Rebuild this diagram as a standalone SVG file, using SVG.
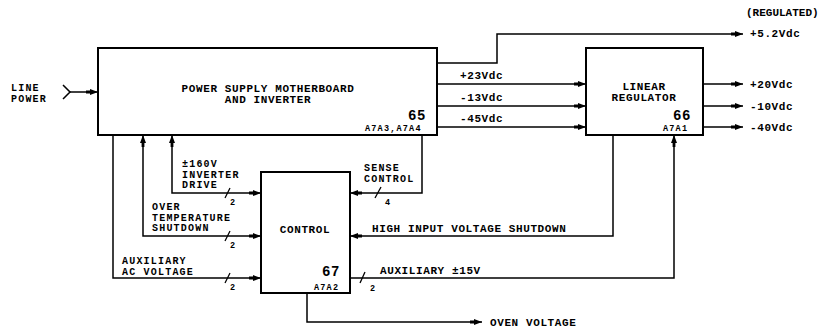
<svg xmlns="http://www.w3.org/2000/svg" width="822" height="333" viewBox="0 0 822 333">
<defs>
<style>
.box{fill:#fff;stroke:#000;stroke-width:2}
.ln{fill:none;stroke:#000;stroke-width:1.5}
.sl{fill:none;stroke:#000;stroke-width:1.3}
text{font-family:"Liberation Mono","DejaVu Sans Mono",monospace;font-size:11px;font-weight:bold;letter-spacing:0.6px;fill:#000}
.ml{font-size:10px;letter-spacing:1.2px}
.big{font-size:14px;letter-spacing:0.5px}
.sm{font-size:8.5px;letter-spacing:1.2px}
.c{text-anchor:middle}
</style>
<marker id="arr" viewBox="0 0 12 8" refX="12" refY="4" markerWidth="12" markerHeight="8" orient="auto-start-reverse" markerUnits="userSpaceOnUse">
<path d="M0,2.6 H4 V1 L12,4 L4,7 V5.4 H0 Z" fill="#000"/>
</marker>
</defs>
<rect width="822" height="333" fill="#fff"/>

<g id="connectors">
<path class="ln" d="M63,85 L70,92 L63,99"/>
<path class="ln" d="M70,92 H98" marker-end="url(#arr)"/>
<path class="ln" d="M437,63 H497 V34 H743" marker-end="url(#arr)"/>
<path class="ln" d="M437,84 H586" marker-end="url(#arr)"/>
<path class="ln" d="M437,106 H586" marker-end="url(#arr)"/>
<path class="ln" d="M437,127 H586" marker-end="url(#arr)"/>
<path class="ln" d="M703,84 H743" marker-end="url(#arr)"/>
<path class="ln" d="M703,106 H743" marker-end="url(#arr)"/>
<path class="ln" d="M703,127 H743" marker-end="url(#arr)"/>
<path class="ln" d="M113,135 V278 H261" marker-end="url(#arr)"/>
<path class="ln" d="M261,236 H143 V135" marker-start="url(#arr)" marker-end="url(#arr)"/>
<path class="ln" d="M261,193 H172 V135" marker-start="url(#arr)" marker-end="url(#arr)"/>
<path class="ln" d="M422,135 V193 H350" marker-end="url(#arr)"/>
<path class="ln" d="M613,135 V236 H350" marker-end="url(#arr)"/>
<path class="ln" d="M350,278 H674 V135" marker-end="url(#arr)"/>
<path class="ln" d="M307,293 V322 H482" marker-end="url(#arr)"/>
<path class="sl" d="M225,198 L230,188"/>
<text class="sm" x="230" y="205">2</text>
<path class="sl" d="M225,241 L230,231"/>
<text class="sm" x="230" y="248">2</text>
<path class="sl" d="M225,283 L230,273"/>
<text class="sm" x="230" y="290">2</text>
<path class="sl" d="M375,198 L381,187"/>
<text class="sm" x="385" y="205">4</text>
<path class="sl" d="M360,283 L365,272"/>
<text class="sm" x="370" y="291">2</text>
<text x="460" y="79">+23Vdc</text>
<text x="460" y="101">-13Vdc</text>
<text x="460" y="122">-45Vdc</text>
<text x="750" y="37">+5.2Vdc</text>
<text x="746" y="16" style="letter-spacing:0">(REGULATED)</text>
<text x="750" y="88">+20Vdc</text>
<text x="750" y="110">-10Vdc</text>
<text x="750" y="131">-40Vdc</text>
<text class="ml" x="182" y="167">±160V</text>
<text class="ml" x="182" y="177.5">INVERTER</text>
<text class="ml" x="182" y="188">DRIVE</text>
<text class="ml" x="152" y="210">OVER</text>
<text class="ml" x="152" y="220.5">TEMPERATURE</text>
<text class="ml" x="152" y="231">SHUTDOWN</text>
<text class="ml" x="122" y="264">AUXILIARY</text>
<text class="ml" x="122" y="275">AC VOLTAGE</text>
<text class="ml" x="364" y="171">SENSE</text>
<text class="ml" x="364" y="182">CONTROL</text>
<text x="372" y="232">HIGH INPUT VOLTAGE SHUTDOWN</text>
<text x="380" y="274">AUXILIARY ±15V</text>
<text x="490" y="326">OVEN VOLTAGE</text>
<text class="ml" x="11" y="91">LINE</text>
<text class="ml" x="11" y="102">POWER</text>
</g>

<g id="power-supply">
<rect class="box" x="98" y="48" width="339" height="87"/>
<text class="c" x="268" y="92">POWER SUPPLY MOTHERBOARD</text>
<text class="c" x="268" y="103">AND INVERTER</text>
<text class="big" x="408" y="120">65</text>
<text class="sm" x="365" y="131">A7A3,A7A4</text>
</g>

<g id="linear-regulator">
<rect class="box" x="586" y="48" width="117" height="87"/>
<text class="c" x="644" y="90">LINEAR</text>
<text class="c" x="644" y="101">REGULATOR</text>
<text class="big" x="673" y="120">66</text>
<text class="sm" x="663" y="131">A7A1</text>
</g>

<g id="control">
<rect class="box" x="261" y="172" width="89" height="121"/>
<text class="c" x="305" y="233">CONTROL</text>
<text class="big" x="322" y="276">67</text>
<text class="sm" x="314" y="290">A7A2</text>
</g>
</svg>
